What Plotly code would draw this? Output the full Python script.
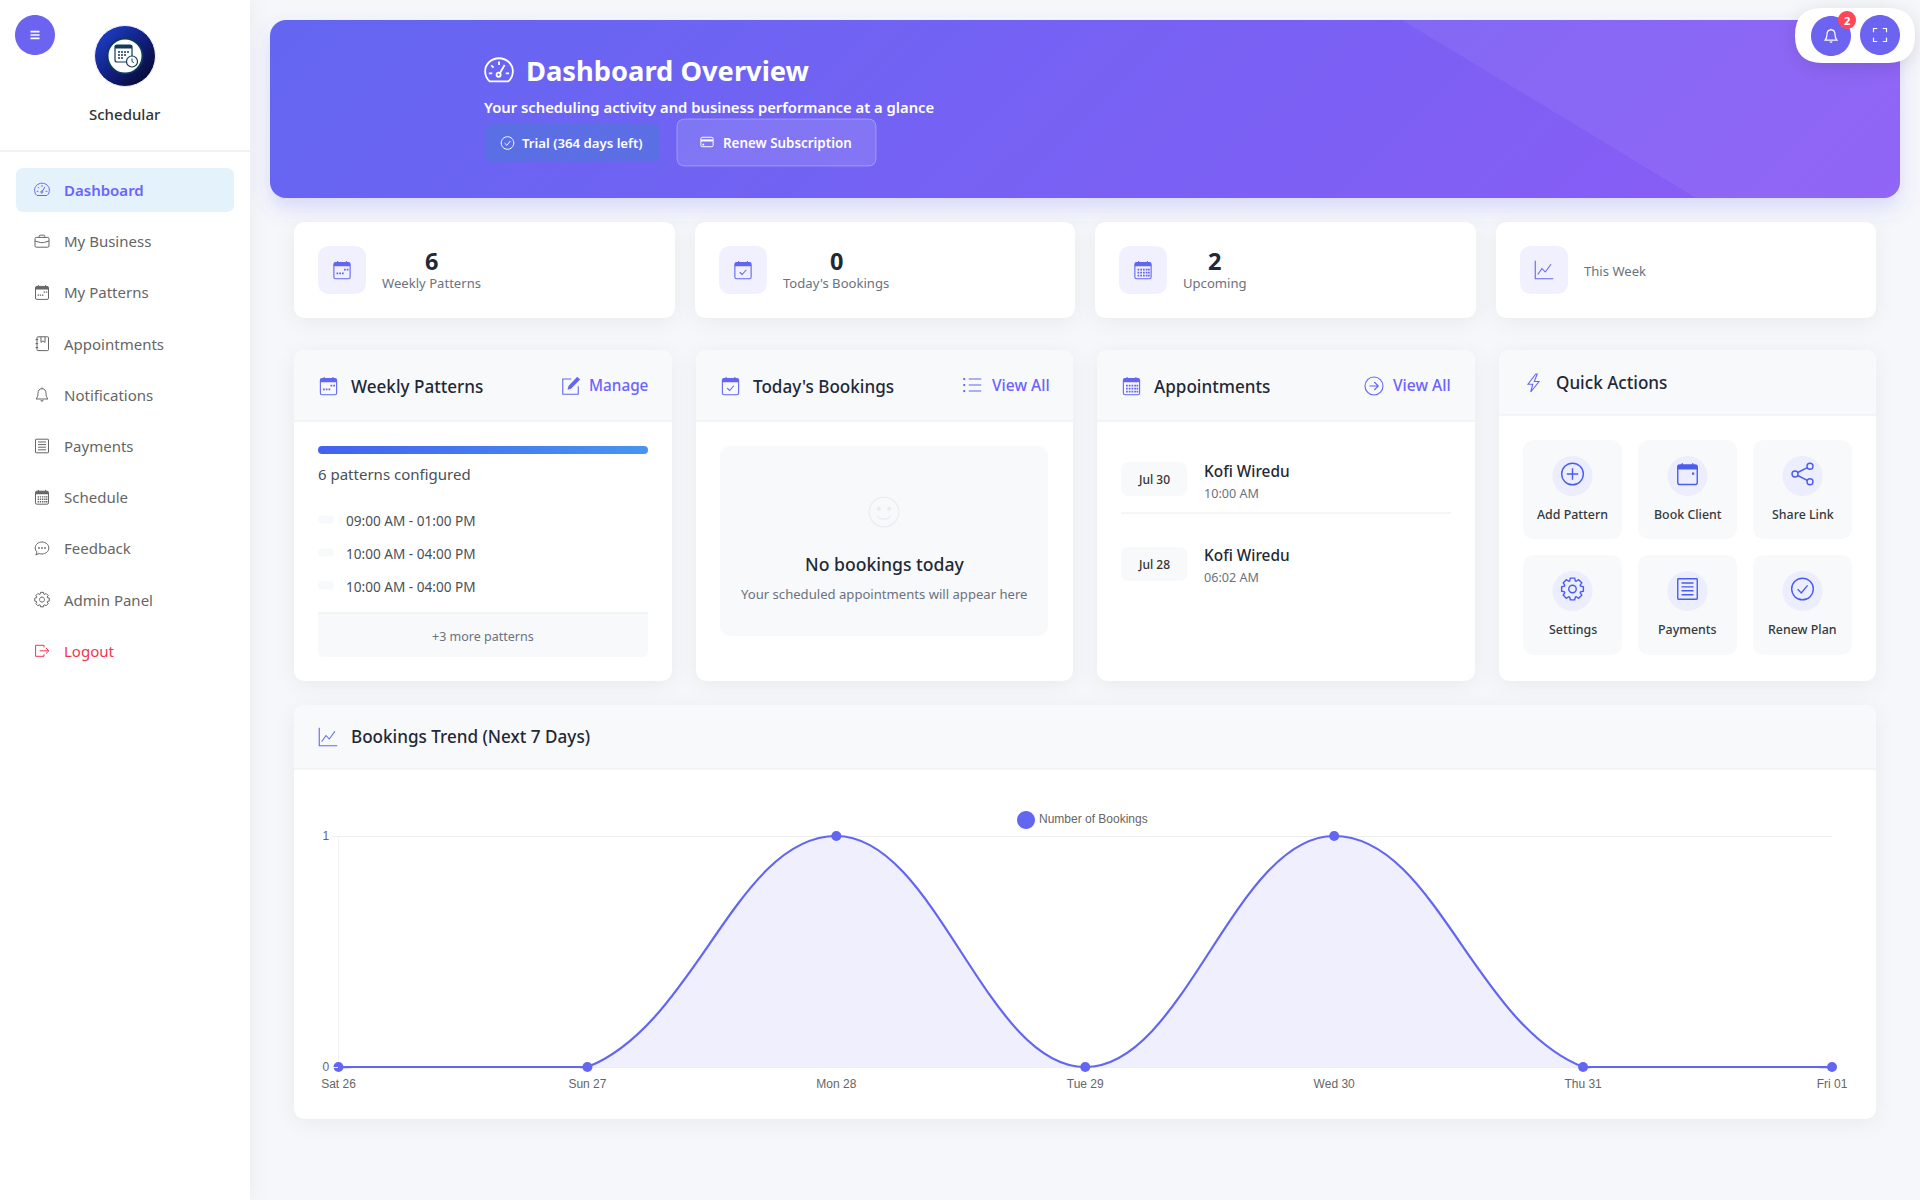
# Scheduling dashboard page with the bookings trend chart, drawn with plotly
import base64
import math
import re
import plotly.graph_objects as go

W, H = 1920, 1200
UI_FONT = "Noto Sans"
CHART_FONT = "Liberation Sans"
INDIGO = "#6366f1"
ACCENT = "#6c63ff"
DARK = "#1f2937"
GREY = "#6b7280"
BODY = "#495057"
PANEL = "#f8f9fb"
LINE = "#e9ecef"

# chart data
days = ["Sat 26", "Sun 27", "Mon 28", "Tue 29", "Wed 30", "Thu 31", "Fri 01"]
bookings = [0, 0, 1, 0, 1, 0, 0]
series_name = "Number of Bookings"

# page content
nav_labels = ["Dashboard", "My Business", "My Patterns", "Appointments", "Notifications",
              "Payments", "Schedule", "Feedback", "Admin Panel", "Logout"]
nav_icons = ["speed", "case", "cal_week", "journal", "bell", "receipt", "cal_grid", "chat", "gear", "logout"]
stat_values = ["6", "0", "2", ""]
stat_labels = ["Weekly Patterns", "Today's Bookings", "Upcoming", "This Week"]
stat_icons = ["cal_week", "cal_check", "cal_grid", "graph"]
pattern_times = ["09:00 AM - 01:00 PM", "10:00 AM - 04:00 PM", "10:00 AM - 04:00 PM"]
appt_dates = ["Jul 30", "Jul 28"]
appt_names = ["Kofi Wiredu", "Kofi Wiredu"]
appt_times = ["10:00 AM", "06:02 AM"]
action_labels = ["Add Pattern", "Book Client", "Share Link", "Settings", "Payments", "Renew Plan"]
action_icons = ["plus", "cal_dot", "share", "gear", "receipt", "check"]


def px(x):
    return x / W


def py(y):
    return 1 - y / H


def circ(cx, cy, r):
    k = 0.5523 * r
    return (f"M{cx - r} {cy} C{cx - r} {cy - k} {cx - k} {cy - r} {cx} {cy - r} "
            f"C{cx + k} {cy - r} {cx + r} {cy - k} {cx + r} {cy} "
            f"C{cx + r} {cy + k} {cx + k} {cy + r} {cx} {cy + r} "
            f"C{cx - k} {cy + r} {cx - r} {cy + k} {cx - r} {cy} Z")


def rrect(x0, y0, x1, y1, r, top_only=False, bottom_only=False):
    rt = 0 if bottom_only else r
    rb = 0 if top_only else r
    return (f"M{x0 + rt} {y0} L{x1 - rt} {y0} Q{x1} {y0} {x1} {y0 + rt} "
            f"L{x1} {y1 - rb} Q{x1} {y1} {x1 - rb} {y1} L{x0 + rb} {y1} "
            f"Q{x0} {y1} {x0} {y1 - rb} L{x0} {y0 + rt} Q{x0} {y0} {x0 + rt} {y0} Z")


def dots(points, s=1.4):
    return " ".join(f"M{x} {y} L{x + s} {y} L{x + s} {y + s} L{x} {y + s} Z" for x, y in points)


def gear_path():
    pts = []
    for i in range(8):
        a = i * math.pi / 4
        for da, r in [(-0.34, 5.7), (-0.2, 7.4), (0.2, 7.4), (0.34, 5.7)]:
            pts.append((8 + r * math.cos(a + da), 8 + r * math.sin(a + da)))
    return "M" + " L".join(f"{x:.2f} {y:.2f}" for x, y in pts) + " Z"


CAL = [("s", rrect(1.5, 2, 14.5, 15, 1.4)), ("f", rrect(1.5, 2, 14.5, 5, 1.2, top_only=True)),
       ("s", "M4.5 0.8 L4.5 2.5 M11.5 0.8 L11.5 2.5")]

# icons on a 16 unit grid, "s" is stroked and "f" is filled
ICONS = {
    "speed": [("s", "M3 13.5 L13 13.5 C14.6 12.2 15.4 10.2 15.4 8.2 C15.4 4.2 12 1.2 8 1.2 "
                    "C4 1.2 0.6 4.2 0.6 8.2 C0.6 10.2 1.4 12.2 3 13.5 Z"),
              ("s", "M8 3 L8 4.8 M3.9 5 L5.1 6.2 M2.6 9.3 L4.4 9.3 M11.6 9.3 L13.4 9.3 M8.2 9.6 L11 4.8"),
              ("s", circ(7.8, 10, 1.1))],
    "case": [("s", rrect(1, 4.2, 15, 14, 1.2)),
             ("s", "M5.2 4.2 L5.2 3 C5.2 2.4 5.6 2 6.2 2 L9.8 2 C10.4 2 10.8 2.4 10.8 3 L10.8 4.2"),
             ("s", "M1 7.8 L6.6 9.4 L9.4 9.4 L15 7.8")],
    "cal_week": CAL + [("f", dots([(9.6, 7), (11.8, 7), (3.6, 10), (5.8, 10), (8, 10)]))],
    "cal_check": CAL + [("s", "M5.4 9.8 L7.3 11.6 L10.7 7.8")],
    "cal_grid": CAL + [("f", dots([(x, y) for y in (7, 9.4, 11.8) for x in (3.6, 5.8, 8, 10.2, 12)]))],
    "cal_dot": CAL + [("f", dots([(11, 7)], 1.5))],
    "journal": [("s", rrect(3, 1.2, 14.5, 15, 0.9)), ("s", "M7 1.2 L7 6.8 L9 5.3 L11 6.8 L11 1.2"),
                ("s", "M1.5 4 L4.2 4 M1.5 8 L4.2 8 M1.5 12 L4.2 12")],
    "bell": [("s", "M8 1.9 C5.2 1.9 4 4 4 6.6 C4 9 3.2 10.9 2.1 12.2 L13.9 12.2 "
                   "C12.8 10.9 12 9 12 6.6 C12 4 10.8 1.9 8 1.9 Z"),
             ("f", "M6.4 13.4 L9.6 13.4 C9.2 15.2 6.8 15.2 6.4 13.4 Z"), ("s", "M8 0.7 L8 1.9")],
    "receipt": [("s", rrect(1.5, 1.2, 14.5, 14.8, 0.5)), ("s", "M4 4 L12 4 M4 6.6 L12 6.6 M4 9.2 L12 9.2 M4 11.8 L12 11.8")],
    "chat": [("s", "M8 1.6 C11.8 1.6 14.8 4.2 14.8 7.6 C14.8 11 11.8 13.6 8 13.6 C7 13.6 6 13.4 5.2 13.1 "
                   "L1.8 14.4 C2.5 13.2 2.9 12.2 2.9 11.4 C1.8 10.4 1.2 9 1.2 7.6 C1.2 4.2 4.2 1.6 8 1.6 Z"),
             ("f", circ(5, 7.6, 0.9) + " " + circ(8, 7.6, 0.9) + " " + circ(11, 7.6, 0.9))],
    "gear": [("s", gear_path()), ("s", circ(8, 8, 2.5))],
    "logout": [("s", "M10 4.6 L10 2.5 L1.6 2.5 L1.6 13.5 L10 13.5 L10 11.4"),
               ("s", "M5.6 8 L14.8 8 M12 5.2 L14.8 8 L12 10.8")],
    "check": [("s", circ(8, 8, 7.2)), ("s", "M4.8 8.2 L7.2 10.6 L11.4 5.6")],
    "card": [("s", rrect(1, 2.6, 15, 13.4, 1.5)), ("f", "M1 5 L15 5 L15 7.4 L1 7.4 Z"), ("f", dots([(2.8, 10)], 2))],
    "graph": [("s", "M1 0.6 L1 15 L15.4 15"), ("s", "M3 11.6 L6.4 6.8 L9 9.6 L13.6 3.4")],
    "pencil": [("s", "M13.8 8.2 L13.8 14.6 L1.4 14.6 L1.4 2.4 L8.2 2.4"),
               ("f", "M13 0.6 L15.3 2.9 L8 10.2 L5.2 11 L6 8 Z")],
    "list": [("s", "M5.4 3.2 L15.4 3.2 M5.4 8 L15.4 8 M5.4 12.8 L15.4 12.8"),
             ("f", circ(1.8, 3.2, 0.9) + " " + circ(1.8, 8, 0.9) + " " + circ(1.8, 12.8, 0.9))],
    "arrow": [("s", circ(8, 8, 7.2)), ("s", "M4.4 8 L11.4 8 M8.2 4.8 L11.4 8 L8.2 11.2")],
    "bolt": [("s", "M9.8 0.8 L3.6 9 L7.4 9 L5.8 15.2 L12.4 6.8 L8.6 6.8 L11 0.8 Z")],
    "smile": [("s", circ(8, 8, 7.4)), ("f", circ(5.4, 6.4, 1) + " " + circ(10.6, 6.4, 1)),
              ("s", "M4.6 9.6 C5.6 12.2 10.4 12.2 11.4 9.6")],
    "plus": [("s", circ(8, 8, 7.2)), ("s", "M8 4.2 L8 11.8 M4.2 8 L11.8 8")],
    "share": [("s", circ(13, 2.8, 2) + " " + circ(13, 13.2, 2) + " " + circ(3, 8, 2)),
              ("s", "M4.8 7 L11.2 3.8 M4.8 9 L11.2 12.2")],
    "expand": [("s", "M1.5 5.2 L1.5 1.5 L5.2 1.5 M10.8 1.5 L14.5 1.5 L14.5 5.2 "
                     "M14.5 10.8 L14.5 14.5 L10.8 14.5 M5.2 14.5 L1.5 14.5 L1.5 10.8")],
    "menu": [("s", "M2 3.5 L14 3.5 M2 8 L14 8 M2 12.5 L14 12.5")],
}

shapes = []
annotations = []


def to_paper(path, ox=0.0, oy=0.0, k=1.0):
    # turn a pixel or icon path into paper fractions, shapes can't take pixels here
    out = []
    is_x = True
    for tok in re.findall(r"[MLCQZ]|-?\d+\.?\d*", path):
        if tok.isalpha():
            out.append(tok)
            is_x = True
        elif is_x:
            out.append(f"{px(ox + float(tok) * k):.6f}")
            is_x = False
        else:
            out.append(f"{py(oy + float(tok) * k):.6f}")
            is_x = True
    s = ""
    for tok in out:
        s += tok if tok.isalpha() else tok + " "
    return s.strip()


def box(path, fill=None, line=None, width=0):
    shapes.append(dict(type="path", xref="paper", yref="paper", layer="below", path=to_paper(path),
                       fillcolor=fill or "rgba(0,0,0,0)",
                       line=dict(color=line or "rgba(0,0,0,0)", width=width)))


def icon(name, cx, cy, size, color, width=1.2):
    k = size / 16
    for mode, path in ICONS[name]:
        p = to_paper(path, cx - size / 2, cy - size / 2, k)
        if mode == "f":
            shapes.append(dict(type="path", xref="paper", yref="paper", layer="below", path=p,
                               fillcolor=color, line=dict(width=0)))
        else:
            shapes.append(dict(type="path", xref="paper", yref="paper", layer="below", path=p,
                               fillcolor="rgba(0,0,0,0)", line=dict(color=color, width=width)))


def txt(x, y, text, size, color, weight=400, anchor="left", family=UI_FONT):
    annotations.append(dict(x=px(x), y=py(y), xref="paper", yref="paper", text=text, showarrow=False,
                            xanchor=anchor, yanchor="middle", borderpad=0, borderwidth=0,
                            font=dict(family=family, size=size, color=color, weight=weight)))


# ---- backdrop: shadows and the banner gradient, plotly shapes have no gradients or blur
BAN = (270, 20, 1900, 198)
STAT_X = [(294, 675), (695, 1075), (1095, 1476), (1496, 1876)]
CARD_X = [(294, 672), (696, 1073), (1097, 1475), (1499, 1876)]
ban_half = (BAN[2] - BAN[0] + BAN[3] - BAN[1]) * 0.25
ban_cx, ban_cy = (BAN[0] + BAN[2]) / 2, (BAN[1] + BAN[3]) / 2

soft = "".join(
    f'<rect x="{x0}" y="{y0 + 4}" width="{x1 - x0}" height="{y1 - y0}" rx="12" fill="#000" fill-opacity=".05" filter="url(#b)"/>'
    for x0, y0, x1, y1 in [(a, 222, b, 318) for a, b in STAT_X] + [(a, 350, b, 681) for a, b in CARD_X] + [(294, 705, 1876, 1119)]
)
backdrop_svg = f'''<svg xmlns="http://www.w3.org/2000/svg" width="{W}" height="{H}" viewBox="0 0 {W} {H}">
<defs>
<filter id="b" x="-20%" y="-40%" width="140%" height="180%"><feGaussianBlur stdDeviation="10"/></filter>
<linearGradient id="ban" gradientUnits="userSpaceOnUse" x1="{ban_cx - ban_half}" y1="{ban_cy - ban_half}" x2="{ban_cx + ban_half}" y2="{ban_cy + ban_half}">
<stop offset="0" stop-color="#6366f1"/><stop offset="1" stop-color="#8b5cf6"/></linearGradient>
<clipPath id="banclip"><rect x="{BAN[0]}" y="{BAN[1]}" width="{BAN[2] - BAN[0]}" height="{BAN[3] - BAN[1]}" rx="16"/></clipPath>
</defs>
<rect x="0" y="0" width="250" height="{H}" fill="#000" fill-opacity=".05" filter="url(#b)"/>
{soft}
<rect x="{BAN[0]}" y="{BAN[1] + 10}" width="{BAN[2] - BAN[0]}" height="{BAN[3] - BAN[1]}" rx="16" fill="#6366f1" fill-opacity=".2" filter="url(#b)"/>
<rect x="{BAN[0]}" y="{BAN[1]}" width="{BAN[2] - BAN[0]}" height="{BAN[3] - BAN[1]}" rx="16" fill="url(#ban)"/>
<polygon points="1402,20 1900,20 1900,198 1696,198" fill="#fff" fill-opacity=".06" clip-path="url(#banclip)"/>
<rect x="1795" y="12" width="120" height="55" rx="27" fill="#000" fill-opacity=".12" filter="url(#b)"/>
</svg>'''

overlay_svg = f'''<svg xmlns="http://www.w3.org/2000/svg" width="{W}" height="{H}" viewBox="0 0 {W} {H}">
<defs>
<linearGradient id="bar"><stop offset="0" stop-color="#4361ee"/><stop offset="1" stop-color="#4895ef"/></linearGradient>
<linearGradient id="logo" x1="0" y1="0" x2="1" y2="1"><stop offset="0" stop-color="#2146d8"/><stop offset=".55" stop-color="#101c78"/><stop offset="1" stop-color="#04061c"/></linearGradient>
</defs>
<rect x="318" y="446" width="330" height="8" rx="4" fill="url(#bar)"/>
<circle cx="125" cy="56" r="30.5" fill="url(#logo)" stroke="#f0f2f8" stroke-width="1"/>
<circle cx="125" cy="56" r="17.5" fill="#fff" stroke="#0b3a5c" stroke-width="2"/>
<rect x="115" y="45" width="17" height="17" rx="2" fill="none" stroke="#123a5a" stroke-width="1.2"/>
<rect x="115" y="45" width="17" height="3.5" fill="#123a5a"/>
<path d="M118 52h2m1 0h2m1 0h2m1 0h2M118 55h2m1 0h2m1 0h2M118 58h2m1 0h2" stroke="#123a5a" stroke-width="1.3"/>
<circle cx="132" cy="61.5" r="5.5" fill="#fff" stroke="#123a5a" stroke-width="1.2"/>
<path d="M132 58.5V61.5l1.8 1.2" fill="none" stroke="#123a5a" stroke-width="1"/>
</svg>'''


def data_uri(svg):
    return "data:image/svg+xml;base64," + base64.b64encode(svg.encode()).decode()


images = [
    dict(source=data_uri(backdrop_svg), xref="paper", yref="paper", x=0, y=1, sizex=1, sizey=1,
         sizing="stretch", xanchor="left", yanchor="top", layer="below"),
    dict(source=data_uri(overlay_svg), xref="paper", yref="paper", x=0, y=1, sizex=1, sizey=1,
         sizing="stretch", xanchor="left", yanchor="top", layer="above"),
]

# ---- sidebar
box(f"M0 0 L250 0 L250 {H} L0 {H} Z", fill="#ffffff")
box("M0 151 L250 151", line="#eeeeee", width=1.5)
box(circ(35, 35, 20), fill="#6c63f0")
icon("menu", 35, 35, 12, "#ffffff", 1.6)
txt(125, 114, "Schedular", 15, "#333333", 500, "center")
box(rrect(16, 168, 234, 212, 8), fill="#e3f2fb")
for i, (label, ic) in enumerate(zip(nav_labels, nav_icons)):
    y = 190 + i * 51.2
    color = ACCENT if i == 0 else ("#f0364f" if label == "Logout" else "#666666")
    icon(ic, 42, y, 16, color, 1)
    txt(64, y, label, 15, color, 600 if i == 0 else 400)

# ---- banner text and buttons
icon("speed", 499, 71, 30, "#ffffff", 1.8)
txt(526, 70, "Dashboard Overview", 27.3, "#ffffff", 700)
txt(484, 107, "Your scheduling activity and business performance at a glance", 14.8, "#ffffff", 600)
box(rrect(485, 124, 660, 162, 8), fill="rgba(70,125,210,0.45)")
icon("check", 507.5, 143, 14, "#ffffff", 1)
txt(522, 143, "Trial (364 days left)", 13.2, "#ffffff", 600)
box(rrect(677, 119, 876, 166, 8), fill="rgba(255,255,255,0.12)", line="rgba(255,255,255,0.3)", width=1)
icon("card", 707, 142, 14, "#ffffff", 1)
txt(723, 143, "Renew Subscription", 13.4, "#ffffff", 600)

# ---- floating buttons
box(rrect(1795, 8, 1915, 63, 27), fill="#ffffff")
box(circ(1831, 36, 20), fill="#6c63f0")
box(circ(1880, 35, 20), fill="#6c63f0")
icon("bell", 1831, 36, 16, "#ffffff", 1.2)
icon("expand", 1880, 35, 16, "#ffffff", 1.2)
box(circ(1847, 20, 9), fill="#ff4757")
txt(1847, 20, "2", 11, "#ffffff", 700, "center")

# ---- stat cards
stat_text_x = [431.5, 836, 1214.5, 1584]
for i, (x0, x1) in enumerate(STAT_X):
    box(rrect(x0, 222, x1, 318, 12), fill="#ffffff")
    ix = x0 + 24
    box(rrect(ix, 246, ix + 48, 294, 12), fill="#f0f0fe")
    icon(stat_icons[i], ix + 24, 270, 20, INDIGO, 1.1)
    if stat_values[i]:
        txt(stat_text_x[i], 260.6, stat_values[i], 23.5, DARK, 700, "center")
        txt(stat_text_x[i], 283, stat_labels[i], 13.1, GREY, 400, "center")
    else:
        txt(stat_text_x[i], 271, stat_labels[i], 13.1, GREY)

# ---- the four middle cards
card_heads = [("cal_week", "Weekly Patterns"), ("cal_check", "Today's Bookings"),
              ("cal_grid", "Appointments"), ("bolt", "Quick Actions")]
for i, (x0, x1) in enumerate(CARD_X):
    head_y1 = 415 if i == 3 else 421
    head_y = 383 if i == 3 else 386
    box(rrect(x0, 350, x1, 681, 12), fill="#ffffff")
    box(rrect(x0, 350, x1, head_y1, 12, top_only=True), fill=PANEL)
    box(f"M{x0} {head_y1} L{x1} {head_y1}", line=LINE, width=1.2)
    icon(card_heads[i][0], x0 + 34.5, head_y, 20, INDIGO, 1.1)
    txt(x0 + 56.5, head_y - (1 if i == 3 else 0), card_heads[i][1], 17.1, DARK, 500)

icon("pencil", 571, 386, 20, INDIGO, 1.1)
txt(649, 385, "Manage", 15.3, ACCENT, 500, "right")
icon("list", 972, 385, 20, INDIGO, 1.1)
txt(1050, 385, "View All", 15.6, ACCENT, 500, "right")
icon("arrow", 1374, 386, 20, INDIGO, 1.1)
txt(1450.5, 385, "View All", 15.6, ACCENT, 500, "right")

# weekly patterns body
txt(318, 474, "6 patterns configured", 15, BODY)
for i, t in enumerate(pattern_times):
    y = 520.6 + i * 33
    box(rrect(318, y - 5, 334, y + 3, 3), fill="#f8f9fa")
    txt(346, y, t, 13.6, BODY)
box(rrect(318, 613, 648, 657, 6, bottom_only=True), fill="#f8f9fa")
box("M318 613 L648 613", line=LINE, width=1)
txt(483, 636, "+3 more patterns", 12.5, GREY, 400, "center")

# today's bookings body
box(rrect(720, 446, 1048, 636, 12), fill="#f8f9fa")
icon("smile", 884, 512, 32, "#e9ecef", 1.2)
txt(884, 564, "No bookings today", 17.6, DARK, 500, "center")
txt(884, 594, "Your scheduled appointments will appear here", 13.1, GREY, 400, "center")

# appointments body
for i, (d, n, t) in enumerate(zip(appt_dates, appt_names, appt_times)):
    top = 462 + i * 85
    box(rrect(1121, top, 1187, top + 34, 8), fill="#f8f9fa")
    txt(1154, top + 17.5, d, 12, "#333333", 500, "center")
    txt(1204, 471 + i * 84, n, 15.4, DARK, 500)
    txt(1204, 493 + i * 84, t, 12.6, GREY)
box("M1121 513 L1451 513", line=LINE, width=1)

# quick actions body
col_x = [1523, 1638, 1753]
row_y = [(440, 539), (555, 655)]
for i, (label, ic) in enumerate(zip(action_labels, action_icons)):
    x0 = col_x[i % 3]
    y0, y1 = row_y[i // 3]
    cx = x0 + 49.5
    box(rrect(x0, y0, x0 + 99, y1, 12), fill="#f8f9fa")
    box(circ(cx, y0 + 36, 20), fill="#eceefd")
    icon(ic, cx, y0 + 34, 24, "#4a5cf0", 1.4)
    txt(cx, y0 + 74, label, 12.4, "#343a40", 500, "center")

# ---- chart card
box(rrect(294, 705, 1876, 1119, 12), fill="#ffffff")
box(rrect(294, 705, 1876, 769, 12, top_only=True), fill=PANEL)
box("M294 769 L1876 769", line=LINE, width=1.2)
icon("graph", 328, 737, 20, INDIGO, 1.1)
txt(350.5, 736, "Bookings Trend (Next 7 Days)", 17.1, DARK, 500)

# legend key, plotly's own legend can't put the text this close to its marker
box(circ(1026, 820, 9), fill=INDIGO)
txt(1039, 819, series_name, 12, "#666666", 400, "left", CHART_FONT)

# chart position on the page, y=1 sits at 836px and y=0 at 1067px
X_LEFT, X_RIGHT = 338.5, 1832
Y_ONE, Y_ZERO = 836, 1067
Y_LOW, Y_HIGH = -0.005, 1.02
unit = Y_ZERO - Y_ONE
dom_top = py(Y_ZERO - Y_HIGH * unit)
dom_bottom = py(Y_ZERO - Y_LOW * unit)

fig = go.Figure()
fig.add_trace(go.Scatter(
    x=days, y=bookings, mode="lines", name=series_name, showlegend=False,
    line=dict(color=INDIGO, width=2.2, shape="spline", smoothing=1.2),
    fill="tozeroy", fillcolor="rgba(99,102,241,0.1)",
))
# the curve is pinned to zero over the two flat stretches, the spline would dip there
for part in ([0, 1], [5, 6]):
    fig.add_trace(go.Scatter(
        x=[days[i] for i in part], y=[bookings[i] for i in part], mode="lines", showlegend=False,
        line=dict(color=INDIGO, width=2.2),
    ))
fig.add_trace(go.Scatter(
    x=days, y=bookings, mode="markers", name=series_name, cliponaxis=False, showlegend=False,
    marker=dict(color=INDIGO, size=10),
))
# y axis line only runs between the two ticks
shapes.append(dict(type="line", xref="x", yref="y", x0=days[0], x1=days[0], y0=0, y1=1,
                   layer="below", line=dict(color="#e8e8e8", width=1)))

fig.update_layout(
    width=W, height=H,
    margin=dict(l=0, r=0, t=0, b=0, pad=0, autoexpand=False),
    paper_bgcolor="#f5f7fb",
    plot_bgcolor="rgba(0,0,0,0)",
    images=images,
    shapes=shapes,
    annotations=annotations,
    font=dict(family=CHART_FONT, size=12, color="#666666"),
    hovermode=False,
    showlegend=False,
    xaxis=dict(
        domain=[px(X_LEFT), px(X_RIGHT)], type="category", range=[0, len(days) - 1],
        showgrid=False, zeroline=False, showline=False, ticks="outside", ticklen=4,
        tickcolor="rgba(0,0,0,0)", tickfont=dict(family=CHART_FONT, size=12, color="#666666"),
    ),
    yaxis=dict(
        domain=[dom_bottom, dom_top], range=[Y_LOW, Y_HIGH], tickvals=[0, 1],
        showgrid=True, gridcolor="#eeeeee", gridwidth=1, zeroline=False, showline=False,
        ticks="outside", ticklen=6, tickcolor="#eeeeee",
        tickfont=dict(family=CHART_FONT, size=12, color="#666666"),
    ),
)

fig.write_html("out.html", config=dict(displayModeBar=False),
               post_script="document.body.style.margin='0';document.documentElement.style.overflow='hidden';")
